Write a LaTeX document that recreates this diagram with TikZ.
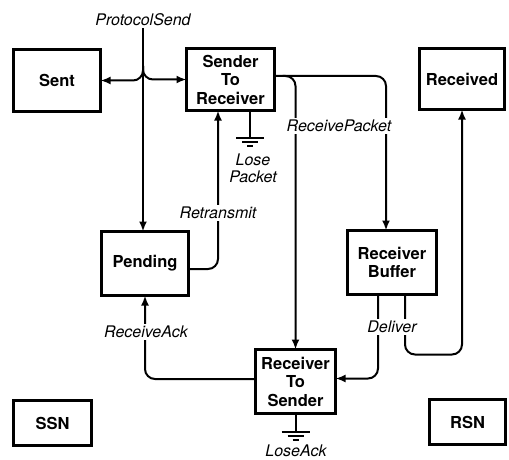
\documentclass[tikz,border=0pt]{standalone}
\usepackage{fontspec}
\setsansfont{TeX Gyre Heros}
\usetikzlibrary{arrows.meta}
\begin{document}
\begin{tikzpicture}[x=1pt,y=-1pt,inner sep=0pt,outer sep=0pt,line width=2pt,
>={Latex[length=10pt,width=8pt]},
statebox/.style={draw,rectangle,line width=3.2pt,align=center,
  font=\sffamily\bfseries\fontsize{16.5}{18.5}\selectfont},
evlabel/.style={fill=white,inner sep=2pt,align=center,
  font=\sffamily\itshape\fontsize{16}{17}\selectfont},
earth/.pic={\draw[line width=2pt] (-14,0) -- (14,0); \draw[line width=2pt] (-8,4) -- (8,4); \draw[line width=2pt] (-3,8) -- (3,8);}]
\useasboundingbox (0,0) rectangle (509,460);
% places
\draw (57,80.5) node[statebox,minimum width=87,minimum height=62] (sent) {Sent};
\draw (230.5,79.5) node[statebox,minimum width=88,minimum height=62] (s2r) {Sender\\To\\Receiver};
\draw (462,79) node[statebox,minimum width=85,minimum height=61] (rcvd) {Received};
\draw (145,263.5) node[statebox,minimum width=87,minimum height=64] (pend) {Pending};
\draw (392,262.5) node[statebox,minimum width=89,minimum height=64] (rbuf) {Receiver\\Buffer};
\draw (295.5,381.5) node[statebox,minimum width=80,minimum height=64] (r2s) {Receiver\\To\\Sender};
\draw (52.5,423) node[statebox,minimum width=78,minimum height=45] (ssn) {SSN};
\draw (467.5,422) node[statebox,minimum width=76,minimum height=45] (rsn) {RSN};
% ProtocolSend
\draw (143,20) node[evlabel] (psend) {ProtocolSend};
\draw[->] (psend.south) -- (psend.south |- pend.north);
\coordinate (split) at (143,66);
\draw[->,rounded corners=10] (split) |- (sent.east);
\draw[->,rounded corners=10] (split) |- (s2r.west);
% Retransmit
\draw[->,rounded corners=10] ([yshift=-5.5]pend.east) -| ([xshift=-12.5]s2r.south);
\draw (218,213) node[evlabel] (retx) {Retransmit};
% LosePacket
\draw ([xshift=19.5]s2r.south) -- ++(0,27) pic {earth};
\draw (253,168) node[evlabel] (lpkt) {Lose\\Packet};
% ReceivePacket
\draw[->,rounded corners=10] ([yshift=3.5]s2r.east) -| ([xshift=-6]rbuf.north);
\draw[->,rounded corners=10] ([xshift=8,yshift=3.5]s2r.east) -| (r2s.north);
\draw (339,126) node[evlabel] (rpkt) {ReceivePacket};
% Deliver
\draw[->,rounded corners=10] ([xshift=-14]rbuf.south) |- ([yshift=3]r2s.east);
\draw[->,rounded corners=10] ([xshift=13]rbuf.south) -- ++(0,60) -| (rcvd.south);
\draw (392,327) node[evlabel] (dlv) {Deliver};
% ReceiveAck
\draw[->,rounded corners=10] ([yshift=2.5]r2s.west) -| (pend.south);
\draw (146,332) node[evlabel] (rack) {ReceiveAck};
% LoseAck
\draw (r2s.south) -- ++(0,18) pic {earth};
\draw (296,451) node[evlabel,inner sep=1pt] (lack) {LoseAck};
\end{tikzpicture}
\end{document}
